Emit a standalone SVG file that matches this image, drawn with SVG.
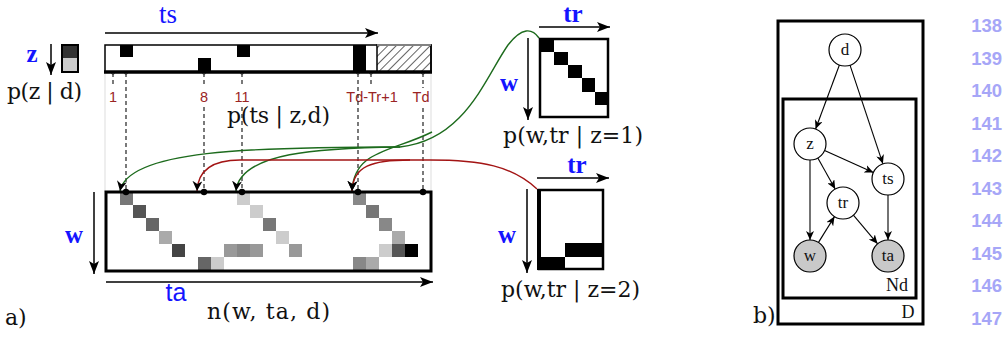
<svg xmlns="http://www.w3.org/2000/svg" width="1003" height="340" viewBox="0 0 1003 340">
<defs>
<style>
.math{font-family:"DejaVu Serif","Liberation Serif",serif;font-size:22px;fill:#111}
.blue{font-family:"Liberation Serif","DejaVu Serif",serif;font-size:25px;fill:#1414ff;font-weight:bold;text-anchor:middle}
.num{font-family:"Liberation Sans",Arial,sans-serif;font-size:14.5px;fill:#9a2424;text-anchor:middle}
.ln{font-family:"Liberation Sans",Arial,sans-serif;font-size:18.5px;font-weight:bold;fill:#a6a6f7;text-anchor:end}
.dash{stroke:#333;stroke-width:1.3;stroke-dasharray:4,3;fill:none}
.guide{stroke:#ddd;stroke-width:1;fill:none}
.ax{stroke:#000;stroke-width:1.5;fill:none;marker-end:url(#ah)}
.gc{stroke:#1d6b1d;stroke-width:1.4;fill:none}
.rc{stroke:#a31414;stroke-width:1.4;fill:none}
.node{fill:#fff;stroke:#000;stroke-width:1.2}
.obs{fill:#c9c9c9;stroke:#000;stroke-width:1.2}
.nl{font-family:"Liberation Serif","DejaVu Serif",serif;font-size:17px;fill:#111;text-anchor:middle}
.ge{stroke:#000;stroke-width:1.1;fill:none;marker-end:url(#sh)}
</style>
<marker id="ah" markerWidth="14" markerHeight="10" refX="13" refY="5" orient="auto" markerUnits="userSpaceOnUse">
<path d="M0,0 L13,5 L0,10 L3,5 z" fill="#000"/>
</marker>
<marker id="dh" markerWidth="11" markerHeight="10" refX="10" refY="5" orient="auto" markerUnits="userSpaceOnUse">
<path d="M0,0 L10,5 L0,10 L3,5 z" fill="#000"/>
</marker>
<marker id="sh" markerWidth="10" markerHeight="8" refX="9" refY="4" orient="auto" markerUnits="userSpaceOnUse">
<path d="M0,0 L9,4 L0,8 L2.5,4 z" fill="#000"/>
</marker>
<pattern id="hatch" width="6" height="6" patternUnits="userSpaceOnUse" patternTransform="rotate(45)">
<line x1="0" y1="0" x2="0" y2="6" stroke="#111" stroke-width="1.3"/>
</pattern>
</defs>
<rect width="1003" height="340" fill="#fff"/>

<g id="panel-a-ts">
<text class="blue" x="168" y="23" style="font-weight:normal;font-size:27px">ts</text>
<line class="ax" x1="105" y1="33" x2="378" y2="33"/>
<line class="guide" x1="105" y1="72" x2="105" y2="192"/>
<line class="guide" x1="431" y1="45" x2="431" y2="192"/>
<rect x="105" y="45" width="326" height="27" fill="#fff" stroke="#000" stroke-width="1.5"/>
<rect x="377" y="45" width="54" height="27" fill="url(#hatch)" stroke="#000" stroke-width="1.5"/>
<line x1="377" y1="45" x2="431" y2="45" stroke="#aaa" stroke-width="1.5"/>
<rect x="120" y="45" width="13" height="12" fill="#000"/>
<rect x="198" y="58" width="13" height="14" fill="#000"/>
<rect x="237" y="45" width="13" height="12" fill="#000"/>
<rect x="353" y="45" width="13" height="27" fill="#000"/>
<line x1="104" y1="72" x2="432" y2="72" stroke="#000" stroke-width="3.5"/>
<g fill="#000">
<circle cx="113" cy="73" r="1.6"/><circle cx="126" cy="73" r="1.6"/><circle cx="204" cy="73" r="1.6"/>
<circle cx="242" cy="73" r="1.6"/><circle cx="358" cy="73" r="1.6"/><circle cx="371" cy="73" r="1.6"/><circle cx="423" cy="73" r="1.6"/>
</g>
<text class="num" x="113" y="102">1</text>
<text class="num" x="204" y="102">8</text>
<text class="num" x="242" y="102">11</text>
<text class="num" x="372" y="102">Td-Tr+1</text>
<text class="num" x="421" y="102">Td</text>
<text class="math" x="227" y="123" textLength="103" lengthAdjust="spacing">p(ts | z,d)</text>
</g>

<g id="panel-a-z">
<text class="blue" x="32" y="62">z</text>
<line class="ax" x1="51" y1="44" x2="51" y2="75"/>
<rect x="62" y="45" width="16" height="13" fill="#333"/>
<rect x="62" y="58" width="16" height="14" fill="#ccc"/>
<rect x="62" y="45" width="16" height="27" fill="none" stroke="#000" stroke-width="2"/>
<text class="math" x="7" y="99" textLength="75" lengthAdjust="spacing">p(z | d)</text>
</g>

<g id="connectors">
<line class="dash" x1="113" y1="73" x2="113" y2="87"/>
<line class="dash" x1="371" y1="73" x2="371" y2="87"/>
<line class="dash" x1="126" y1="73" x2="126" y2="192"/>
<line class="dash" x1="204" y1="73" x2="204" y2="86"/>
<line class="dash" x1="204" y1="107" x2="204" y2="192"/>
<line class="dash" x1="242" y1="73" x2="242" y2="86"/>
<line class="dash" x1="242" y1="107" x2="242" y2="192"/>
<line class="dash" x1="358" y1="73" x2="358" y2="192"/>
<line class="dash" x1="423" y1="73" x2="423" y2="88"/>
<line class="dash" x1="423" y1="108" x2="423" y2="192"/>
<path class="gc" d="M539,38 C532,28 522,27 508,45 C485,78 465,140 400,147"/>
<path class="gc" d="M400,147 C250,147 128,150 120,191" marker-end="url(#dh)"/>
<path class="gc" d="M400,147 C320,148 240,152 236,191" marker-end="url(#dh)"/>
<path class="gc" d="M432,132 C392,152 354,150 352,191" marker-end="url(#dh)"/>
<path class="rc" d="M537,189 C512,166 482,160 430,160 L240,160 C212,160 198,170 197,191" marker-end="url(#dh)"/>
<path class="rc" d="M410,160 C372,160 353,166 352,191" marker-end="url(#dh)"/>
</g>

<g id="panel-a-matrix">
<g>
<rect x="120" y="192" width="13" height="13" fill="#777"/>
<rect x="133" y="205" width="13" height="13" fill="#555"/>
<rect x="146" y="218" width="13" height="13" fill="#666"/>
<rect x="159" y="231" width="13" height="13" fill="#aaa"/>
<rect x="172" y="244" width="13" height="13" fill="#444"/>
<rect x="198" y="257" width="13" height="13" fill="#666"/>
<rect x="211" y="257" width="13" height="13" fill="#ccc"/>
<rect x="224" y="244" width="13" height="13" fill="#999"/>
<rect x="237" y="244" width="13" height="13" fill="#888"/>
<rect x="250" y="244" width="13" height="13" fill="#999"/>
<rect x="237" y="192" width="13" height="13" fill="#ccc"/>
<rect x="250" y="205" width="13" height="13" fill="#ccc"/>
<rect x="263" y="218" width="13" height="13" fill="#777"/>
<rect x="276" y="231" width="13" height="13" fill="#ccc"/>
<rect x="289" y="244" width="13" height="13" fill="#999"/>
<rect x="353" y="192" width="13" height="13" fill="#888"/>
<rect x="366" y="205" width="13" height="13" fill="#777"/>
<rect x="379" y="218" width="13" height="13" fill="#888"/>
<rect x="392" y="231" width="13" height="13" fill="#aaa"/>
<rect x="379" y="244" width="13" height="13" fill="#ccc"/>
<rect x="392" y="244" width="13" height="13" fill="#555"/>
<rect x="405" y="244" width="13" height="13" fill="#000"/>
<rect x="353" y="257" width="13" height="13" fill="#888"/>
<rect x="366" y="257" width="13" height="13" fill="#aaa"/>
</g>
<rect x="106" y="192" width="325" height="79" fill="none" stroke="#000" stroke-width="3"/>
<g fill="#000">
<circle cx="126" cy="192" r="3.2"/><circle cx="204" cy="192" r="3.2"/><circle cx="242" cy="192" r="3.2"/>
<circle cx="358" cy="192" r="3.2"/><circle cx="423" cy="192" r="3.2"/>
</g>
<line class="ax" x1="94" y1="192" x2="94" y2="274"/>
<text class="blue" x="74" y="243">w</text>
<line class="ax" x1="106" y1="282" x2="433" y2="282"/>
<text class="blue" x="176" y="301" style="font-family:'Liberation Sans',Arial,sans-serif;font-weight:normal">ta</text>
<text class="math" x="207" y="319" textLength="123" lengthAdjust="spacing">n(w, ta, d)</text>
<text class="math" x="5" y="325">a)</text>
</g>

<g id="matrix-z1">
<text class="blue" x="573" y="22">tr</text>
<line class="ax" x1="539" y1="27" x2="610" y2="27"/>
<line class="ax" x1="528" y1="38" x2="528" y2="120"/>
<text class="blue" x="509" y="91">w</text>
<rect x="540" y="38" width="14" height="14" fill="#000"/>
<rect x="554" y="52" width="14" height="13" fill="#000"/>
<rect x="568" y="65" width="14" height="13" fill="#000"/>
<rect x="582" y="78" width="13" height="14" fill="#000"/>
<rect x="595" y="92" width="13" height="13" fill="#000"/>
<rect x="540" y="39" width="68" height="78" fill="none" stroke="#000" stroke-width="2.5"/>
<text class="math" x="503" y="143" textLength="140" lengthAdjust="spacing">p(w,tr | z=1)</text>
</g>

<g id="matrix-z2">
<text class="blue" x="577" y="173">tr</text>
<line class="ax" x1="537" y1="178" x2="609" y2="178"/>
<line class="ax" x1="527" y1="189" x2="527" y2="273"/>
<text class="blue" x="507" y="243">w</text>
<rect x="538" y="257" width="27" height="13" fill="#000"/>
<rect x="565" y="243" width="39" height="14" fill="#000"/>
<rect x="539" y="190" width="64" height="79" fill="none" stroke="#000" stroke-width="2.5"/>
<line x1="539" y1="189" x2="539" y2="270" stroke="#000" stroke-width="4"/>
<text class="math" x="501" y="297" textLength="139" lengthAdjust="spacing">p(w,tr | z=2)</text>
</g>

<g id="panel-b">
<rect x="778" y="21" width="145" height="303" fill="none" stroke="#000" stroke-width="3"/>
<rect x="783" y="99" width="133" height="199" fill="none" stroke="#000" stroke-width="3"/>
<text class="nl" x="897" y="291" style="font-size:18px">Nd</text>
<text class="nl" x="908" y="318" style="font-size:18px">D</text>
<text class="math" x="753" y="323">b)</text>
</g>
<g id="pgm-edges">
<line class="ge" x1="839.4" y1="65" x2="815.6" y2="129"/>
<line class="ge" x1="850" y1="65.2" x2="882.9" y2="163.8"/>
<line class="ge" x1="824.6" y1="150.5" x2="873.4" y2="172.5"/>
<line class="ge" x1="817.8" y1="158" x2="835.2" y2="189"/>
<line class="ge" x1="810" y1="160" x2="810" y2="240"/>
<line class="ge" x1="818.5" y1="242.4" x2="834.5" y2="216.6"/>
<line class="ge" x1="853.4" y1="215.2" x2="877.6" y2="243.8"/>
<line class="ge" x1="888" y1="195" x2="888" y2="240"/>
</g>
<g id="node-d"><circle class="node" cx="845" cy="50" r="16"/><text class="nl" x="845" y="55">d</text></g>
<g id="node-z"><circle class="node" cx="810" cy="144" r="16"/><text class="nl" x="810" y="149">z</text></g>
<g id="node-ts"><circle class="node" cx="888" cy="179" r="16"/><text class="nl" x="888" y="184">ts</text></g>
<g id="node-tr"><circle class="node" cx="843" cy="203" r="16"/><text class="nl" x="843" y="208">tr</text></g>
<g id="node-w"><circle class="obs" cx="810" cy="256" r="16"/><text class="nl" x="810" y="261">w</text></g>
<g id="node-ta"><circle class="obs" cx="888" cy="256" r="16"/><text class="nl" x="888" y="261">ta</text></g>

<g id="line-numbers">
<text class="ln" x="1002" y="32">138</text>
<text class="ln" x="1002" y="65">139</text>
<text class="ln" x="1002" y="97">140</text>
<text class="ln" x="1002" y="130">141</text>
<text class="ln" x="1002" y="162">142</text>
<text class="ln" x="1002" y="195">143</text>
<text class="ln" x="1002" y="227">144</text>
<text class="ln" x="1002" y="260">145</text>
<text class="ln" x="1002" y="292">146</text>
<text class="ln" x="1002" y="325">147</text>
</g>
</svg>
